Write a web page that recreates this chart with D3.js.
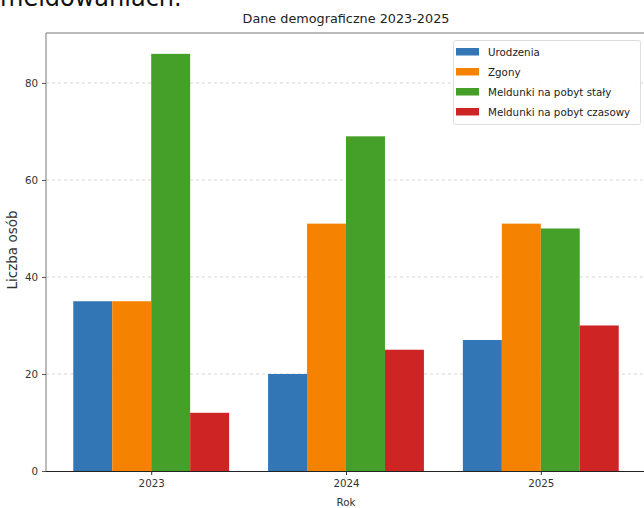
<!DOCTYPE html>
<html><head><meta charset="utf-8">
<script src="https://cdn.jsdelivr.net/npm/d3@7"></script>
<style>body{margin:0;background:#fff;} svg{display:block;font-family:"DejaVu Sans",sans-serif;}</style>
</head><body>
<svg id="c" width="644" height="508"></svg>
<script>
const years = ["2023", "2024", "2025"];
const seriesNames = ["Urodzenia", "Zgony", "Meldunki na pobyt stały", "Meldunki na pobyt czasowy"];
const urodzenia = [35, 20, 27];
const zgony = [35, 51, 51];
const meldunkiStaly = [86, 69, 50];
const meldunkiCzasowy = [12, 25, 30];
const yTicks = [0, 20, 40, 60, 80];
const colors = ["#3276b5", "#f58200", "#45a029", "#cf2424"];
const seriesValues = [urodzenia, zgony, meldunkiStaly, meldunkiCzasowy];

const svg = d3.select("#c");
const L = 46, R = 646, T = 33, B = 471;
const x = d3.scaleLinear().domain([-0.54, 2.54]).range([L, R]);
const y = d3.scaleLinear().domain([0, 90.3]).range([B, T]);
const bw = 0.2;

// cropped top text (continuation of text above the chart)
svg.append("text").attr("x", 0).attr("y", 6).attr("font-size", 24).attr("fill", "#111").text("meldowaniach.");

// grid
svg.append("g").selectAll("line").data(yTicks.filter(d => d > 0)).join("line")
  .attr("x1", L).attr("x2", R).attr("y1", d => y(d)).attr("y2", d => y(d))
  .attr("stroke", "#cccccc").attr("stroke-width", 0.8).attr("stroke-dasharray", "3,3");

// bars
seriesValues.forEach((vals, j) => {
  svg.append("g").selectAll("rect").data(vals).join("rect")
    .attr("x", (d, i) => x(i + (j - 1.5) * bw - bw / 2))
    .attr("width", x(bw) - x(0))
    .attr("y", d => y(d))
    .attr("height", d => y(0) - y(d))
    .attr("fill", colors[j]);
});

// spines
svg.append("line").attr("x1", L).attr("x2", R).attr("y1", T).attr("y2", T).attr("stroke", "#777").attr("stroke-width", 1);
svg.append("line").attr("x1", L).attr("x2", L).attr("y1", T).attr("y2", B).attr("stroke", "#777").attr("stroke-width", 1);
svg.append("line").attr("x1", R).attr("x2", R).attr("y1", T).attr("y2", B).attr("stroke", "#777").attr("stroke-width", 1);

// y axis
const ya = svg.append("g").attr("transform", `translate(${L},0)`)
  .call(d3.axisLeft(y).tickValues(yTicks).tickSize(4).tickPadding(4));
ya.select(".domain").remove();
ya.selectAll("line").attr("stroke", "#555");
ya.selectAll("text").attr("font-size", 10.3).attr("fill", "#333").attr("font-family", "DejaVu Sans");

// x axis
const xa = svg.append("g").attr("transform", `translate(0,${B})`)
  .call(d3.axisBottom(x).tickValues([0, 1, 2]).tickFormat(i => years[i]).tickSize(4).tickPadding(5));
xa.select(".domain").attr("d", `M${L},0.5H${R}`).attr("stroke", "#222");
xa.selectAll("line").attr("stroke", "#333");
xa.selectAll("text").attr("font-size", 10.3).attr("fill", "#333").attr("font-family", "DejaVu Sans");

// labels
svg.append("text").attr("x", 346).attr("y", 23).attr("text-anchor", "middle").attr("font-size", 12.8).attr("fill", "#222").text("Dane demograficzne 2023-2025");
svg.append("text").attr("x", 346).attr("y", 506).attr("text-anchor", "middle").attr("font-size", 10.3).attr("fill", "#333").text("Rok");
svg.append("text").attr("transform", "translate(17,250) rotate(-90)").attr("text-anchor", "middle").attr("font-size", 13.5).attr("fill", "#333").text("Liczba osób");

// legend
const lg = svg.append("g");
lg.append("rect").attr("x", 453.5).attr("y", 40.5).attr("width", 187).attr("height", 84).attr("rx", 2)
  .attr("fill", "#fff").attr("fill-opacity", 0.85).attr("stroke", "#dddddd");
seriesNames.forEach((n, j) => {
  const yy = 51.5 + j * 20;
  lg.append("rect").attr("x", 456).attr("y", yy - 3.5).attr("width", 23).attr("height", 7.5).attr("fill", colors[j]);
  lg.append("text").attr("x", 488).attr("y", yy + 4).attr("font-size", 10.3).attr("fill", "#222").text(n);
});
</script>
</body></html>
